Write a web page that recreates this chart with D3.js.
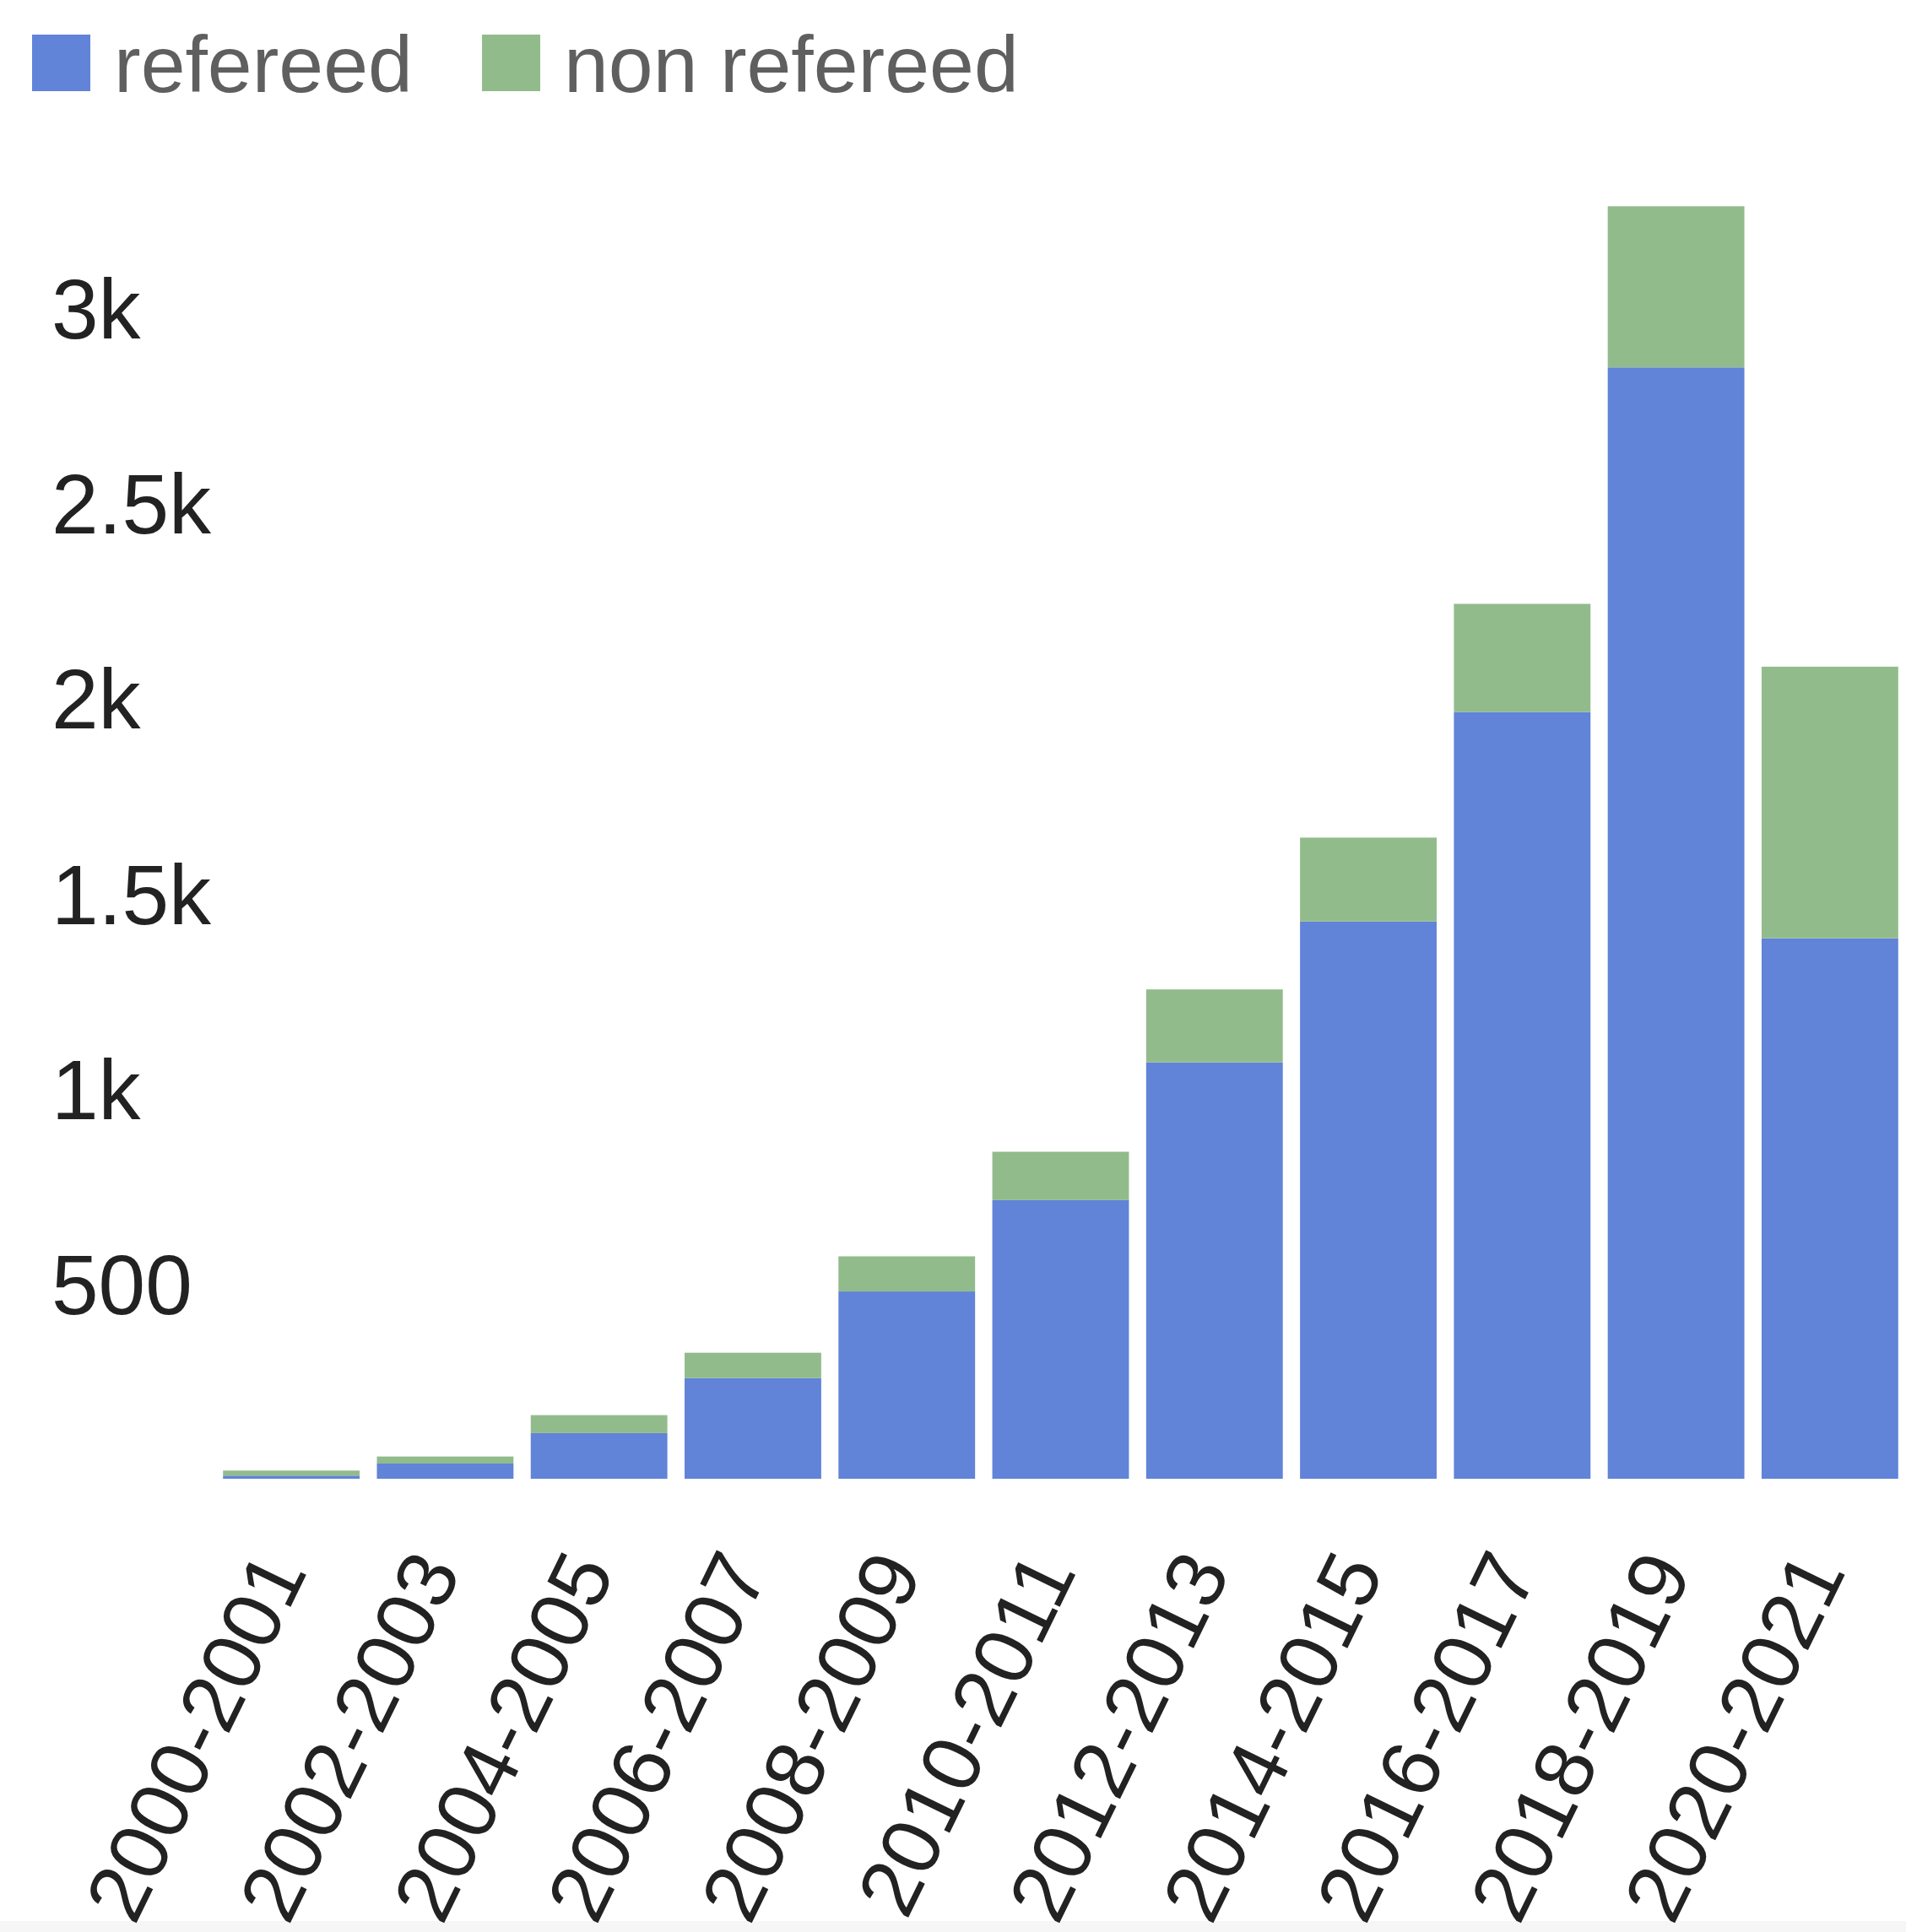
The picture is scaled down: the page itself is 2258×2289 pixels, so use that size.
<!DOCTYPE html>
<html>
<head>
<meta charset="utf-8">
<script src="https://cdn.jsdelivr.net/npm/d3@7"></script>
<style>
  body { margin: 0; background: #fff; }
  text { font-family: "Liberation Sans", Arial, Helvetica, sans-serif; }
</style>
</head>
<body>
<div id="chart"></div>
<script>
// data
var periods = ["2000-2001", "2002-2003", "2004-2005", "2006-2007", "2008-2009",
  "2010-2011", "2012-2013", "2014-2015", "2016-2017", "2018-2019", "2020-2021"];
var refereed = [8, 39, 117, 258, 480, 714, 1067, 1428, 1965, 2848, 1385];
var nonRefereed = [13, 18, 46, 65, 90, 124, 187, 215, 277, 413, 696];
var seriesNames = ["refereed", "non refereed"];
var seriesColors = ["#6183d8", "#92bb8c"];
var yTicks = [500, 1000, 1500, 2000, 2500, 3000];

var W = 2258, H = 2289;
var baseY = 1752;

var svg = d3.select("#chart").append("svg")
  .attr("width", W)
  .attr("height", H);

// faint grey strip at the very bottom
svg.append("rect")
  .attr("x", 0).attr("y", 2276)
  .attr("width", W).attr("height", H - 2276)
  .attr("fill", "#f6f6f6");

var x = d3.scaleBand()
  .domain(periods)
  .range([254, 2259])
  .paddingInner(0.112)
  .paddingOuter(0.056);

var y = d3.scaleLinear()
  .domain([0, 3000])
  .range([baseY, 365]);

var rows = periods.map(function(p, i) {
  return { period: p, refereed: refereed[i], nonRefereed: nonRefereed[i] };
});

var stack = d3.stack().keys(["refereed", "nonRefereed"]);
var layers = stack(rows);

svg.selectAll("g.layer")
  .data(layers)
  .enter()
  .append("g")
  .attr("class", "layer")
  .attr("fill", function(d, i) { return seriesColors[i]; })
  .selectAll("rect")
  .data(function(d) { return d; })
  .enter()
  .append("rect")
  .attr("x", function(d) { return x(d.data.period); })
  .attr("width", x.bandwidth())
  .attr("y", function(d) { return y(d[1]); })
  .attr("height", function(d) { return y(d[0]) - y(d[1]); });

// y axis labels, no line
var fmt = function(v) { return v >= 1000 ? (v / 1000) + "k" : String(v); };
svg.selectAll("text.ytick")
  .data(yTicks)
  .enter()
  .append("text")
  .attr("class", "ytick")
  .attr("x", 61)
  .attr("y", function(d) { return y(d); })
  .attr("dy", "0.36em")
  .attr("font-size", 100)
  .attr("fill", "#222")
  .text(fmt);

// x axis labels, rotated
svg.selectAll("text.xtick")
  .data(periods)
  .enter()
  .append("text")
  .attr("class", "xtick")
  .attr("transform", function(d) {
    return "translate(" + (x(d) + x.bandwidth() / 2 - 12) + "," + 1846 + ") rotate(-64)";
  })
  .attr("text-anchor", "end")
  .attr("dy", "0.36em")
  .attr("font-size", 98)
  .attr("fill", "#222")
  .text(function(d) { return d; });

// legend
var legendX = [38, 571];
var leg = svg.selectAll("g.legend")
  .data(seriesNames)
  .enter()
  .append("g")
  .attr("class", "legend")
  .attr("transform", function(d, i) { return "translate(" + legendX[i] + ",41)"; });

leg.append("rect")
  .attr("width", 69)
  .attr("height", 67)
  .attr("fill", function(d, i) { return seriesColors[i]; });

leg.append("text")
  .attr("x", 97)
  .attr("y", 68)
  .attr("font-size", 95)
  .attr("fill", "#5f5f5f")
  .text(function(d) { return d; });
</script>
</body>
</html>
